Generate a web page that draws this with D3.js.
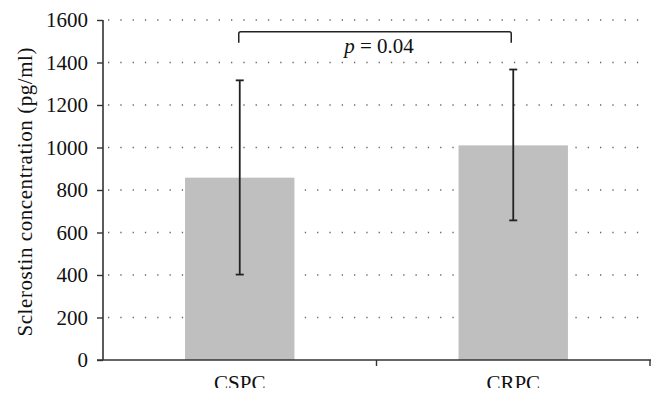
<!DOCTYPE html>
<html>
<head>
<meta charset="utf-8">
<script src="https://cdn.jsdelivr.net/npm/d3@7"></script>
<style>
  body { margin: 0; background: #fff; }
  svg text { font-family: "Liberation Serif", "DejaVu Serif", serif; fill: #111; font-size: 21px; }
</style>
</head>
<body>
<svg width="664" height="403"></svg>
<script>
// chart data
var categories = ["CSPC", "CRPC"];
var means = [858, 1010];
var errLow = [402, 657];
var errHigh = [1316, 1367];
var yTicks = [0, 200, 400, 600, 800, 1000, 1200, 1400, 1600];
var pLabel = "0.04";
var bracketLevel = 1545;
var bracketDrop = 1493;

var svg = d3.select("svg");
var margin = { left: 103, right: 14, top: 20, bottom: 43 };
var width = 664 - margin.left - margin.right,
  height = 403 - margin.top - margin.bottom;

var g = svg.append("g").attr("transform", "translate(" + margin.left + "," + margin.top + ")");

var x = d3.scaleBand().domain(categories).range([0, width]).paddingInner(0).paddingOuter(0);
var y = d3.scaleLinear().domain([0, 1600]).range([height, 0]);

var barW = x.bandwidth() * 0.4;

// dotted gridlines
g.selectAll(".grid")
  .data(yTicks.slice(1))
  .enter()
  .append("line")
  .attr("x1", 5)
  .attr("x2", width - 5)
  .attr("y1", function(d) { return y(d); })
  .attr("y2", function(d) { return y(d); })
  .attr("stroke", "#666")
  .attr("stroke-width", 1.3)
  .attr("stroke-dasharray", "1.3,11");

// bars
g.selectAll(".bar")
  .data(means)
  .enter()
  .append("rect")
  .attr("x", function(d, i) { return x(categories[i]) + x.bandwidth() / 2 - barW / 2; })
  .attr("y", function(d) { return y(d); })
  .attr("width", barW)
  .attr("height", function(d) { return height - y(d); })
  .attr("fill", "#bfbfbf");

// error bars
var eb = g.selectAll(".err").data(means).enter().append("g");
eb.append("line")
  .attr("x1", function(d, i) { return x(categories[i]) + x.bandwidth() / 2; })
  .attr("x2", function(d, i) { return x(categories[i]) + x.bandwidth() / 2; })
  .attr("y1", function(d, i) { return y(errLow[i]); })
  .attr("y2", function(d, i) { return y(errHigh[i]); })
  .attr("stroke", "#222")
  .attr("stroke-width", 1.8);
[errLow, errHigh].forEach(function(arr) {
  eb.append("line")
    .attr("x1", function(d, i) { return x(categories[i]) + x.bandwidth() / 2 - 4; })
    .attr("x2", function(d, i) { return x(categories[i]) + x.bandwidth() / 2 + 4; })
    .attr("y1", function(d, i) { return y(arr[i]); })
    .attr("y2", function(d, i) { return y(arr[i]); })
    .attr("stroke", "#222")
    .attr("stroke-width", 1.8);
});

// significance bracket
var bx1 = x(categories[0]) + x.bandwidth() / 2 - 1,
  bx2 = x(categories[1]) + x.bandwidth() / 2 - 2;
g.append("path")
  .attr("d", "M" + bx1 + "," + y(bracketDrop) + "V" + (y(bracketLevel) + 2) +
    "Q" + bx1 + "," + y(bracketLevel) + " " + (bx1 + 2) + "," + y(bracketLevel) +
    "H" + (bx2 - 2) + "Q" + bx2 + "," + y(bracketLevel) + " " + bx2 + "," + (y(bracketLevel) + 2) +
    "V" + y(bracketDrop))
  .attr("fill", "none")
  .attr("stroke", "#222")
  .attr("stroke-width", 1.5);

var pt = g.append("text")
  .attr("x", (bx1 + bx2) / 2 + 4)
  .attr("y", 33)
  .attr("text-anchor", "middle");
pt.append("tspan").style("font-style", "italic").text("p");
pt.append("tspan").text(" = " + pLabel);

// y axis
var yAxis = g.append("g").call(
  d3.axisLeft(y).tickValues(yTicks).tickFormat(d3.format("d")).tickSize(6).tickPadding(9)
);
yAxis.attr("font-size", null).attr("font-family", null);
yAxis.select(".domain").attr("stroke", "#333").attr("stroke-width", 1.6).attr("d", "M0," + height + "V0");
yAxis.selectAll(".tick line").attr("stroke", "#333").attr("stroke-width", 1.4);
yAxis.selectAll(".tick text").attr("fill", "#111");

// x axis
var xAxisG = g.append("g").attr("transform", "translate(0," + height + ")");
xAxisG.append("line")
  .attr("x1", -6).attr("x2", width + 1)
  .attr("stroke", "#333").attr("stroke-width", 1.6);
xAxisG.selectAll(".xt")
  .data([x.bandwidth(), width])
  .enter()
  .append("line")
  .attr("x1", function(d) { return d; })
  .attr("x2", function(d) { return d; })
  .attr("y1", 0).attr("y2", 6)
  .attr("stroke", "#333").attr("stroke-width", 1.4);

// x labels cut off at the bottom like the source
svg.append("clipPath").attr("id", "cut")
  .append("rect").attr("x", 0).attr("y", 0).attr("width", 664).attr("height", 388);
svg.append("g").attr("clip-path", "url(#cut)")
  .selectAll(".xl")
  .data(categories)
  .enter()
  .append("text")
  .attr("x", function(d) { return margin.left + x(d) + x.bandwidth() / 2; })
  .attr("y", 390)
  .attr("text-anchor", "middle")
  .text(function(d) { return d; });

// y title
svg.append("text")
  .attr("transform", "translate(32,192) rotate(-90)")
  .attr("text-anchor", "middle")
  .attr("textLength", 289)
  .attr("lengthAdjust", "spacing")
  .text("Sclerostin concentration (pg/ml)");
</script>
</body>
</html>
